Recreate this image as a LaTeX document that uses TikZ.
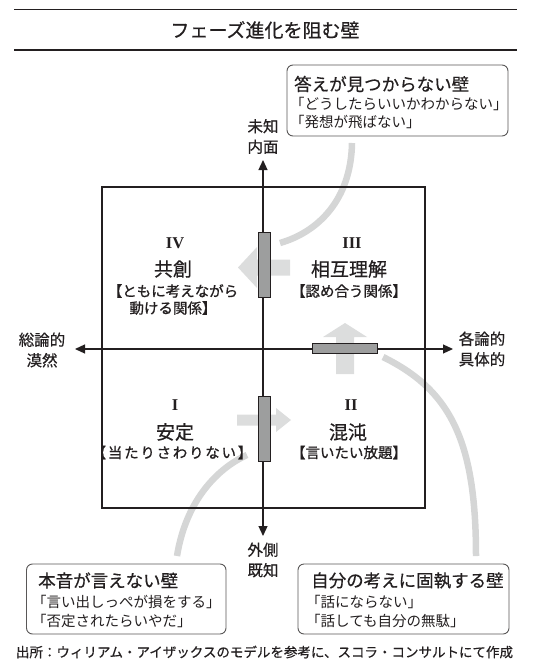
\documentclass[tikz,border=0pt]{standalone}
\usepackage{fontspec}
\newfontfamily\jp{Noto Sans CJK JP}
\newfontfamily\jpm{Noto Sans CJK JP}[FakeBold=0.5]
\newfontfamily\jpb{Noto Sans CJK JP}[FakeBold=1.0]
\newfontfamily\romanf{Liberation Serif}
\usetikzlibrary{arrows.meta}
\definecolor{ink}{HTML}{231F20}
\definecolor{wallgray}{HTML}{9D9E9E}
\definecolor{lightarrow}{HTML}{DCDDDD}
\definecolor{curvegray}{HTML}{D5D6D6}
\definecolor{boxline}{HTML}{595757}
\begin{document}
\begin{tikzpicture}[x=1pt,y=-1pt,
  jt/.style={inner sep=0pt, text=ink},
  rulel/.style={draw=ink, line width=1.3pt},
  frame/.style={draw=ink, line width=2.5pt, inner sep=0pt},
  axisline/.style={draw=ink, line width=1.2pt, {Triangle[length=10pt,width=9pt]}-{Triangle[length=10pt,width=9pt]}},
  wall/.style={draw=ink, fill=wallgray, line width=1pt, inner sep=0pt},
  flow/.style={fill=lightarrow, draw=none},
  link/.style={draw=curvegray, line width=6.5pt},
  callout/.style={draw=boxline, line width=0.9pt, rounded corners=6pt, inner sep=0pt, fill=white},
  ttl/.style={jt, font=\jpm\fontsize{19}{19}\selectfont},
  axl/.style={jt, align=center, font=\jpm\fontsize{15.5}{20.5}\selectfont},
  qname/.style={jt, font=\jpm\fontsize{19}{19}\selectfont},
  qsub/.style={jt, align=center, font=\jpb\fontsize{14.5}{17}\selectfont},
  qnum/.style={jt, font=\romanf\bfseries\fontsize{16.5}{16.5}\selectfont},
  ctitle/.style={jt, anchor=west, font=\jpm\fontsize{17.5}{17.5}\selectfont},
  cline/.style={jt, anchor=west, font=\jp\fontsize{14.5}{14.5}\selectfont},
  src/.style={jt, font=\jpm\fontsize{13.5}{13.5}\selectfont}]
\useasboundingbox (0,0) rectangle (532,671);

% title and rules
\draw[rulel] (14,9.5) -- (517,9.5);
\draw[rulel] (14,50) -- (517,50);
\node[ttl] (title) at (265,30) {フェーズ進化を阻む壁};

% light flow arrows
\fill[flow] (290,259.5) -- (257,259.5) -- (257,247) -- (238,267.5) -- (257,288) -- (257,275.5) -- (290,275.5) -- cycle;
\fill[flow] (336,374) -- (336,337) -- (323,337) -- (345,323) -- (367,337) -- (354,337) -- (354,374) -- cycle;
\fill[flow] (237,414.5) -- (276,414.5) -- (276,408) -- (291,420) -- (276,432) -- (276,425.5) -- (237,425.5) -- cycle;

% curved links
\coordinate (l1s) at (352,143);
\coordinate (l1e) at (280,243);
\coordinate (l2s) at (177,556);
\coordinate (l2e) at (247,455);
\coordinate (l3s) at (383,357);
\coordinate (l3e) at (476,556);
\draw[link] (l1s) .. controls (351,200) and (318,232) .. (l1e);
\draw[link] (l2s) .. controls (186,500) and (218,468) .. (l2e);
\draw[link] (l3s) .. controls (450,390) and (476,440) .. (l3e);

% frame
\node[frame, minimum width=323pt, minimum height=321pt] (sq) at (263.5,347.5) {};

% axes
\coordinate (axL) at (75,349);
\coordinate (axR) at (453,349);
\coordinate (axT) at (263,160);
\coordinate (axB) at (263,536);
\draw[axisline] (axL) -- (axR);
\draw[axisline] (axT) -- (axB);

% walls
\node[wall, minimum width=12pt, minimum height=64.5pt] (wallA) at (264,265) {};
\node[wall, minimum width=12pt, minimum height=65pt] (wallB) at (264,428.5) {};
\node[wall, minimum width=65.4pt, minimum height=10pt] (wallC) at (345,348.3) {};

% axis labels
\node[axl] (lblL) at (42,350) {総論的\\漠然};
\node[axl] (lblR) at (482,349) {各論的\\具体的};
\node[axl] (lblT) at (263,136.5) {未知\\内面};
\node[axl] (lblB) at (263,560) {外側\\既知};

% quadrant IV
\node[qnum] (n4) at (175,243) {IV};
\node[qname] (q4) at (173,269) {共創};
\node[qsub] (s4) at (173,299.5) {【ともに考えながら\\動ける関係】};
% quadrant III
\node[qnum] (n3) at (352,243) {III};
\node[qname] (q3) at (349,269) {相互理解};
\node[qsub] (s3) at (349,291) {【認め合う関係】};
% quadrant I
\node[qnum] (n1) at (175,405) {I};
\node[qname] (q1) at (175,432) {安定};
\node[qsub, font=\jpb\fontsize{14.5}{17}\selectfont\addfontfeature{LetterSpace=12}] (s1) at (172,452.5) {【当たりさわりない】};
% quadrant II
\node[qnum] (n2) at (351,405) {II};
\node[qname] (q2) at (348,432) {混沌};
\node[qsub] (s2) at (349,452.5) {【言いたい放題】};

% callout boxes
\node[callout, minimum width=221pt, minimum height=71pt] (boxT) at (397.5,100.5) {};
\node[ctitle] (boxTt) at (294,84) {答えが見つからない壁};
\node[cline] (boxTa) at (290,103.5) {「どうしたらいいかわからない」};
\node[cline] (boxTb) at (290,122) {「発想が飛ばない」};

\node[callout, minimum width=199.5pt, minimum height=70pt] (boxL) at (126.25,599) {};
\node[ctitle] (boxLt) at (38,580.5) {本音が言えない壁};
\node[cline] (boxLa) at (32,601.5) {「言い出しっぺが損をする」};
\node[cline] (boxLb) at (32,621) {「否定されたらいやだ」};

\node[callout, minimum width=211pt, minimum height=70pt] (boxR) at (403.5,599) {};
\node[ctitle] (boxRt) at (311,580.5) {自分の考えに固執する壁};
\node[cline] (boxRa) at (306,601.5) {「話にならない」};
\node[cline] (boxRb) at (306,621) {「話しても自分の無駄」};

% source
\node[src] (source) at (264.5,652) {出所：ウィリアム・アイザックスのモデルを参考に、スコラ・コンサルトにて作成};
\end{tikzpicture}
\end{document}
